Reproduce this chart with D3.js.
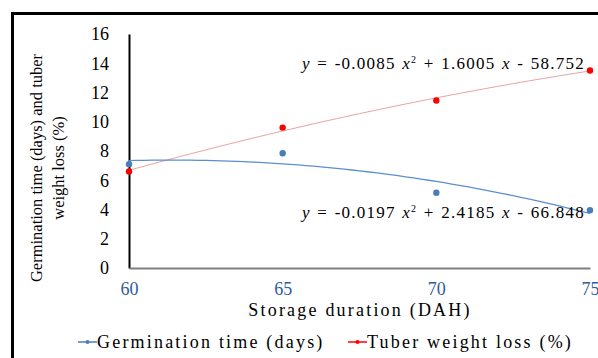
<!DOCTYPE html>
<html><head><meta charset="utf-8"><script src="https://cdn.jsdelivr.net/npm/d3@7"></script>
<style>
  svg text { font-family: "Times New Roman", "Liberation Serif", Tinos, serif !important; }
</style>
</head>
<body style="margin:0">
<script>
// storage duration (DAH)
var storageDays = [60, 65, 70, 75];
var yTicks = [0, 2, 4, 6, 8, 10, 12, 14, 16];

// measured values
var germinationTime = [7.1, 7.85, 5.15, 3.95];
var tuberWeightLoss = [6.6, 9.6, 11.45, 13.5];

// polynomial trendline coefficients [a, b, c] for a*x^2 + b*x + c
var germinationFit = [-0.0197, 2.4185, -66.848];
var tuberFit = [-0.0085, 1.6005, -58.752];

var W = 598, H = 358;
var blue = "#4a7ebb", red = "#ff0000";
var fontName = "Times New Roman";

var svg = d3.select("body").append("svg")
    .attr("width", W)
    .attr("height", H)
    .attr("font-family", fontName);

// outer frame (cropped at right and bottom)
svg.append("path")
    .attr("d", "M12.5," + H + " V13.5 H" + W)
    .attr("fill", "none")
    .attr("stroke", "#000")
    .attr("stroke-width", 3);

var x = d3.scaleLinear().domain([60, 75]).range([129, 590]);
var y = d3.scaleLinear().domain([0, 16]).range([268, 34]);

// y axis
var yAxis = svg.append("g")
    .attr("transform", "translate(" + x(60) + ",0)")
    .call(d3.axisLeft(y).tickValues(yTicks).tickSize(0).tickPadding(20));
yAxis.attr("font-family", fontName).attr("font-size", 18);
yAxis.select(".domain").attr("stroke", "#000").attr("stroke-width", 2);
yAxis.selectAll("text")
    .attr("fill", "#000")
    .attr("font-family", fontName)
    .attr("font-size", 18);

// x axis
var xAxis = svg.append("g")
    .attr("transform", "translate(0," + y(0) + ")")
    .call(d3.axisBottom(x).tickValues(storageDays).tickSize(0).tickPadding(14));
xAxis.attr("font-family", fontName).attr("font-size", 18);
xAxis.select(".domain").attr("stroke", "#7f7f7f").attr("stroke-width", 2);
xAxis.selectAll("text")
    .attr("fill", "#2e5c9a")
    .attr("font-family", fontName)
    .attr("font-size", 18);

// axis titles
svg.append("text")
    .attr("x", 360)
    .attr("y", 316)
    .attr("text-anchor", "middle")
    .attr("font-family", fontName)
    .attr("font-size", 18)
    .attr("letter-spacing", 2.2)
    .text("Storage duration (DAH)");

var yTitle = svg.append("g")
    .attr("transform", "translate(0,168) rotate(-90)");
yTitle.append("text")
    .attr("x", 0).attr("y", 42)
    .attr("text-anchor", "middle")
    .attr("font-family", fontName)
    .attr("font-size", 16.5)
    .text("Germination time (days) and tuber");
yTitle.append("text")
    .attr("x", 0).attr("y", 64)
    .attr("text-anchor", "middle")
    .attr("font-family", fontName)
    .attr("font-size", 16.5)
    .text("weight loss (%)");

// trendlines
function poly(c) { return function(v) { return c[0] * v * v + c[1] * v + c[2]; }; }
var fine = d3.range(60, 75.01, 0.25);
var line = d3.line()
    .x(function(d) { return x(d[0]); })
    .y(function(d) { return y(d[1]); });

var gf = poly(germinationFit), tf = poly(tuberFit);
svg.append("path")
    .attr("d", line(fine.map(function(v) { return [v, tf(v)]; })))
    .attr("fill", "none")
    .attr("stroke", "#e8a3a3")
    .attr("stroke-width", 1);
svg.append("path")
    .attr("d", line(fine.map(function(v) { return [v, gf(v)]; })))
    .attr("fill", "none")
    .attr("stroke", "#5b8fd0")
    .attr("stroke-width", 1.3);

// points
svg.selectAll(".g-pt")
    .data(storageDays)
  .enter().append("circle")
    .attr("class", "g-pt")
    .attr("cx", function(d) { return x(d); })
    .attr("cy", function(d, i) { return y(germinationTime[i]); })
    .attr("r", 3.2)
    .attr("fill", blue);
svg.selectAll(".t-pt")
    .data(storageDays)
  .enter().append("circle")
    .attr("class", "t-pt")
    .attr("cx", function(d) { return x(d); })
    .attr("cy", function(d, i) { return y(tuberWeightLoss[i]); })
    .attr("r", 3.2)
    .attr("fill", red);

// equation labels
function equation(tx, ty, c) {
  var t = svg.append("text")
      .attr("x", tx).attr("y", ty)
      .attr("font-family", fontName)
      .attr("font-size", 17)
      .attr("letter-spacing", 1.25)
      .attr("word-spacing", 1);
  t.append("tspan").attr("font-style", "italic").text("y");
  t.append("tspan").text(" = " + c[0].toFixed(4) + " ");
  t.append("tspan").attr("font-style", "italic").text("x");
  t.append("tspan").attr("dy", -6).attr("font-size", 10).text("2");
  t.append("tspan").attr("dy", 6).text(" + " + c[1].toFixed(4) + " ");
  t.append("tspan").attr("font-style", "italic").text("x");
  t.append("tspan").text(" - " + Math.abs(c[2]).toFixed(3));
}
equation(302, 69, tuberFit);
equation(302, 218, germinationFit);

// legend
var legendItems = [
  {label: "Germination time (days)", color: blue, x: 78},
  {label: "Tuber weight loss (%)", color: red, x: 348}
];
var lg = svg.selectAll(".legend")
    .data(legendItems)
  .enter().append("g")
    .attr("class", "legend")
    .attr("transform", function(d) { return "translate(" + d.x + ",342)"; });
lg.append("line")
    .attr("x1", 0).attr("x2", 19)
    .attr("stroke", function(d) { return d.color; })
    .attr("stroke-width", 1.5);
lg.append("circle")
    .attr("cx", 9.5).attr("r", 2)
    .attr("fill", function(d) { return d.color; });
lg.append("text")
    .attr("x", 19).attr("dy", "0.35em")
    .attr("font-family", fontName)
    .attr("font-size", 18)
    .attr("letter-spacing", 2.2)
    .text(function(d) { return d.label; });
</script>
</body></html>
